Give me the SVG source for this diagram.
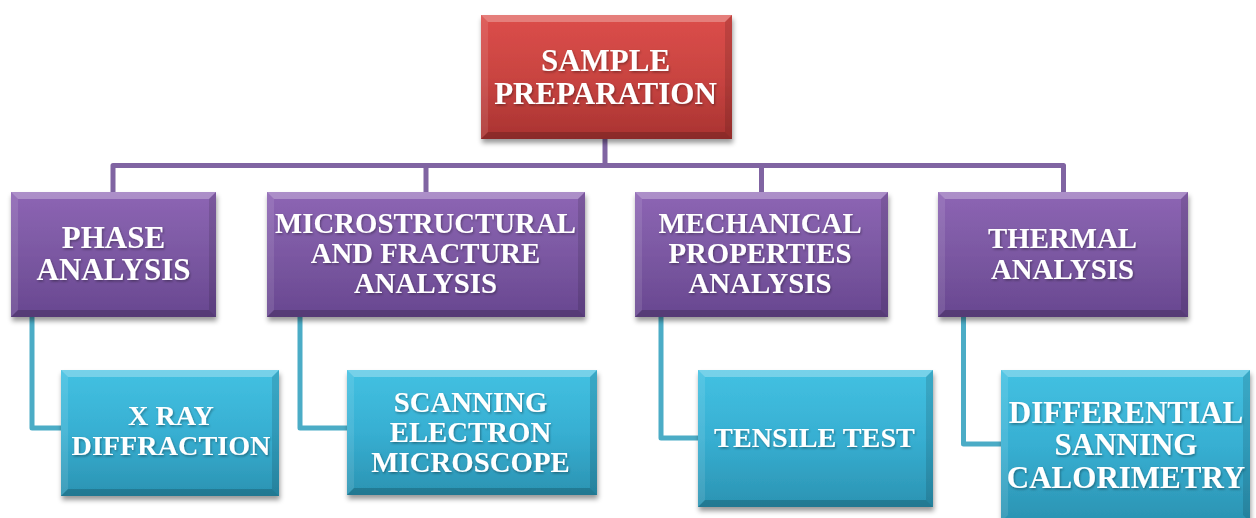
<svg xmlns="http://www.w3.org/2000/svg" width="1256" height="518" viewBox="0 0 1256 518">
  <defs>
    <linearGradient id="gRed" x1="0" y1="0" x2="0" y2="1">
      <stop offset="0" stop-color="#dc4e4a"/>
      <stop offset="0.5" stop-color="#c94441"/>
      <stop offset="1" stop-color="#a93331"/>
    </linearGradient>
    <linearGradient id="gPurple" x1="0" y1="0" x2="0" y2="1">
      <stop offset="0" stop-color="#8d65b4"/>
      <stop offset="0.5" stop-color="#7b58a2"/>
      <stop offset="1" stop-color="#684790"/>
    </linearGradient>
    <linearGradient id="gCyan" x1="0" y1="0" x2="0" y2="1">
      <stop offset="0" stop-color="#43c1e2"/>
      <stop offset="0.5" stop-color="#37afd2"/>
      <stop offset="1" stop-color="#2b93b2"/>
    </linearGradient>
    <filter id="boxShadow" x="-10%" y="-10%" width="120%" height="130%">
      <feDropShadow dx="1" dy="4" stdDeviation="2.5" flood-color="#000" flood-opacity="0.4"/>
    </filter>
    <filter id="txtShadow" x="-5%" y="-20%" width="110%" height="140%">
      <feDropShadow dx="1" dy="1.5" stdDeviation="0.8" flood-color="#000" flood-opacity="0.35"/>
    </filter>
  </defs>
  <style>
    .lnP { fill: none; stroke: #8064a2; stroke-width: 5; stroke-linejoin: round; }
    .lnC { fill: none; stroke: #4bacc6; stroke-width: 5; stroke-linejoin: round; }
    .red { fill: url(#gRed); }
    .pur { fill: url(#gPurple); }
    .cya { fill: url(#gCyan); }
    .box { filter: url(#boxShadow); }
    .hiT { fill: #ffffff; fill-opacity: 0.28; }
    .hiL { fill: #ffffff; fill-opacity: 0.1; }
    .shR { fill: #000000; fill-opacity: 0.12; }
    .shB { fill: #000000; fill-opacity: 0.18; }
    text { font-family: "Liberation Serif", "Times New Roman", serif; font-weight: bold; fill: #ffffff; text-anchor: middle; filter: url(#txtShadow); }
    .t31 { font-size: 31px; }
    .t29 { font-size: 28.8px; }
    .t28 { font-size: 28.2px; }
  </style>

  <!-- connectors -->
  <g id="connectors">
    <path class="lnP" d="M605,139 V165.5 M113,192 V165.5 H1063.5 V192 M426,165.5 V192 M761.5,165.5 V192"/>
    <path class="lnC" d="M32,317 V428 H62"/>
    <path class="lnC" d="M300,317 V428 H348"/>
    <path class="lnC" d="M661,317 V438 H699"/>
    <path class="lnC" d="M963.5,317 V444 H1002"/>
  </g>

  <!-- root -->
  <g id="sample-preparation">
    <g class="box">
      <rect class="red" x="481" y="15" width="251" height="124"/>
    </g>
    <polygon class="hiT" points="481,15 732,15 725,22 488,22"/>
    <polygon class="hiL" points="481,15 488,22 488,132 481,139"/>
    <polygon class="shR" points="732,15 732,139 725,132 725,22"/>
    <polygon class="shB" points="481,139 732,139 725,132 488,132"/>
    <text class="t31" x="605.5" y="71">SAMPLE</text>
    <text class="t31" x="605.5" y="103.5">PREPARATION</text>
  </g>

  <!-- second level -->
  <g id="phase-analysis">
    <g class="box">
      <rect class="pur" x="11" y="192" width="205" height="125"/>
    </g>
    <polygon class="hiT" points="11,192 216,192 209,199 18,199"/>
    <polygon class="hiL" points="11,192 18,199 18,310 11,317"/>
    <polygon class="shR" points="216,192 216,317 209,310 209,199"/>
    <polygon class="shB" points="11,317 216,317 209,310 18,310"/>
    <text class="t31" x="113.5" y="248">PHASE</text>
    <text class="t31" x="113.5" y="280">ANALYSIS</text>
  </g>

  <g id="microstructural-analysis">
    <g class="box">
      <rect class="pur" x="267" y="192" width="318" height="125"/>
    </g>
    <polygon class="hiT" points="267,192 585,192 578,199 274,199"/>
    <polygon class="hiL" points="267,192 274,199 274,310 267,317"/>
    <polygon class="shR" points="585,192 585,317 578,310 578,199"/>
    <polygon class="shB" points="267,317 585,317 578,310 274,310"/>
    <text class="t29" x="425.5" y="233">MICROSTRUCTURAL</text>
    <text class="t29" x="425.5" y="263">AND FRACTURE</text>
    <text class="t29" x="425.5" y="293">ANALYSIS</text>
  </g>

  <g id="mechanical-analysis">
    <g class="box">
      <rect class="pur" x="635" y="192" width="253" height="125"/>
    </g>
    <polygon class="hiT" points="635,192 888,192 881,199 642,199"/>
    <polygon class="hiL" points="635,192 642,199 642,310 635,317"/>
    <polygon class="shR" points="888,192 888,317 881,310 881,199"/>
    <polygon class="shB" points="635,317 888,317 881,310 642,310"/>
    <text class="t29" x="760" y="233">MECHANICAL</text>
    <text class="t29" x="760" y="263">PROPERTIES</text>
    <text class="t29" x="760" y="293">ANALYSIS</text>
  </g>

  <g id="thermal-analysis">
    <g class="box">
      <rect class="pur" x="938" y="192" width="250" height="125"/>
    </g>
    <polygon class="hiT" points="938,192 1188,192 1181,199 945,199"/>
    <polygon class="hiL" points="938,192 945,199 945,310 938,317"/>
    <polygon class="shR" points="1188,192 1188,317 1181,310 1181,199"/>
    <polygon class="shB" points="938,317 1188,317 1181,310 945,310"/>
    <text class="t29" x="1062.5" y="248">THERMAL</text>
    <text class="t29" x="1062.5" y="279">ANALYSIS</text>
  </g>

  <!-- third level -->
  <g id="x-ray-diffraction">
    <g class="box">
      <rect class="cya" x="61" y="370" width="218" height="126"/>
    </g>
    <polygon class="hiT" points="61,370 279,370 272,377 68,377"/>
    <polygon class="hiL" points="61,370 68,377 68,489 61,496"/>
    <polygon class="shR" points="279,370 279,496 272,489 272,377"/>
    <polygon class="shB" points="61,496 279,496 272,489 68,489"/>
    <text class="t28" x="171" y="425">X RAY</text>
    <text class="t28" x="171" y="455">DIFFRACTION</text>
  </g>

  <g id="scanning-electron-microscope">
    <g class="box">
      <rect class="cya" x="347" y="370" width="250" height="125"/>
    </g>
    <polygon class="hiT" points="347,370 597,370 590,377 354,377"/>
    <polygon class="hiL" points="347,370 354,377 354,488 347,495"/>
    <polygon class="shR" points="597,370 597,495 590,488 590,377"/>
    <polygon class="shB" points="347,495 597,495 590,488 354,488"/>
    <text class="t29" x="470.5" y="411.5">SCANNING</text>
    <text class="t29" x="470.5" y="441.5">ELECTRON</text>
    <text class="t29" x="470.5" y="471.5">MICROSCOPE</text>
  </g>

  <g id="tensile-test">
    <g class="box">
      <rect class="cya" x="698" y="370" width="235" height="137"/>
    </g>
    <polygon class="hiT" points="698,370 933,370 926,377 705,377"/>
    <polygon class="hiL" points="698,370 705,377 705,500 698,507"/>
    <polygon class="shR" points="933,370 933,507 926,500 926,377"/>
    <polygon class="shB" points="698,507 933,507 926,500 705,500"/>
    <text class="t28" x="814.5" y="447">TENSILE TEST</text>
  </g>

  <g id="differential-scanning-calorimetry">
    <g class="box">
      <rect class="cya" x="1001" y="370" width="249" height="152"/>
    </g>
    <polygon class="hiT" points="1001,370 1250,370 1243,377 1008,377"/>
    <polygon class="hiL" points="1001,370 1008,377 1008,515 1001,522"/>
    <polygon class="shR" points="1250,370 1250,522 1243,515 1243,377"/>
    <text class="t31" x="1126" y="423">DIFFERENTIAL</text>
    <text class="t31" x="1126" y="455">SANNING</text>
    <text class="t31" x="1126" y="488">CALORIMETRY</text>
  </g>
</svg>
